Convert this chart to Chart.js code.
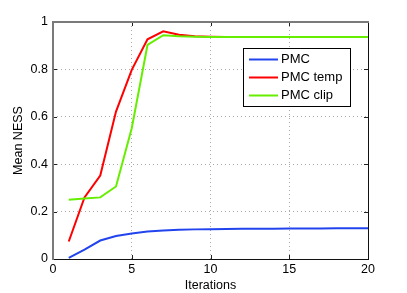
<!DOCTYPE html>
<html>
<head>
<meta charset="utf-8">
<script src="https://cdn.jsdelivr.net/npm/chart.js@4/dist/chart.umd.min.js"></script>
<style>
  html, body { margin: 0; padding: 0; background: #fff; }
  canvas { display: block; }
</style>
</head>
<body>
<canvas id="myChart" width="407" height="293"></canvas>
<script>
// iterations 1..20
const iterations = [1, 2, 3, 4, 5, 6, 7, 8, 9, 10, 11, 12, 13, 14, 15, 16, 17, 18, 19, 20];
const pmc = [0.005, 0.04, 0.078, 0.097, 0.108, 0.116, 0.12, 0.123, 0.125, 0.126, 0.127, 0.128, 0.128, 0.128, 0.129, 0.129, 0.129, 0.13, 0.13, 0.13];
const pmcTemp = [0.074, 0.26, 0.352, 0.622, 0.798, 0.927, 0.961, 0.946, 0.94, 0.938, 0.937, 0.937, 0.937, 0.937, 0.937, 0.937, 0.937, 0.937, 0.937, 0.937];
const pmcClip = [0.25, 0.255, 0.26, 0.306, 0.552, 0.903, 0.944, 0.94, 0.938, 0.937, 0.937, 0.937, 0.937, 0.937, 0.937, 0.937, 0.937, 0.937, 0.937, 0.937];
const xTicks = [0, 5, 10, 15, 20];
const yTicks = [0, 0.2, 0.4, 0.6, 0.8, 1];

const FONT = 'Liberation Sans, Arial, Helvetica, sans-serif';

function pts(vals) {
    return iterations.map((x, i) => ({ x: x, y: vals[i] }));
}

// matlab style box, inward ticks and legend
const matlabPlugin = {
    id: 'matlab',
    afterDraw(chart) {
        const ctx = chart.ctx;
        const a = chart.chartArea;
        const xs = chart.scales.x, ys = chart.scales.y;
        const L = Math.round(a.left), R = Math.round(a.right);
        const T = Math.round(a.top), B = Math.round(a.bottom);
        ctx.save();
        ctx.strokeStyle = '#222';
        ctx.lineWidth = 1;
        xTicks.forEach(v => {
            const px = Math.round(xs.getPixelForValue(v)) + 0.5;
            ctx.beginPath();
            ctx.moveTo(px, B); ctx.lineTo(px, B - 4);
            ctx.moveTo(px, T); ctx.lineTo(px, T + 4);
            ctx.stroke();
        });
        yTicks.forEach(v => {
            const py = Math.round(ys.getPixelForValue(v)) + 0.5;
            ctx.beginPath();
            ctx.moveTo(L, py); ctx.lineTo(L + 4, py);
            ctx.moveTo(R, py); ctx.lineTo(R - 4, py);
            ctx.stroke();
        });
        // bottom and right black, left and top grey
        ctx.strokeStyle = '#111';
        ctx.beginPath();
        ctx.moveTo(L, B + 0.5); ctx.lineTo(R + 1, B + 0.5);
        ctx.moveTo(R + 0.5, T); ctx.lineTo(R + 0.5, B + 1);
        ctx.stroke();
        ctx.strokeStyle = '#7a7a7a';
        ctx.lineWidth = 2;
        ctx.beginPath();
        ctx.moveTo(L, T); ctx.lineTo(R + 1, T);
        ctx.moveTo(L, T - 1); ctx.lineTo(L, B + 1);
        ctx.stroke();

        // legend box
        const lx = 243, ly = 48, lw = 107, lh = 58;
        ctx.fillStyle = '#fff';
        ctx.fillRect(lx, ly, lw, lh);
        ctx.strokeStyle = '#000';
        ctx.lineWidth = 1;
        ctx.strokeRect(lx + 0.5, ly + 0.5, lw, lh);
        ctx.font = '13px ' + FONT;
        ctx.textBaseline = 'middle';
        chart.data.datasets.forEach((ds, i) => {
            const y = ly + 11.5 + i * 18;
            ctx.strokeStyle = ds.borderColor;
            ctx.lineWidth = 2;
            ctx.beginPath();
            ctx.moveTo(lx + 6, y); ctx.lineTo(lx + 35, y);
            ctx.stroke();
            ctx.fillStyle = '#000';
            ctx.fillText(ds.label, lx + 38, y);
        });
        ctx.restore();
    }
};

new Chart(document.getElementById('myChart').getContext('2d'), {
    type: 'line',
    data: {
        datasets: [
            { label: 'PMC', data: pts(pmc), borderColor: '#2244ee', order: 2 },
            { label: 'PMC temp', data: pts(pmcTemp), borderColor: '#ff0000', order: 1 },
            { label: 'PMC clip', data: pts(pmcClip), borderColor: '#66ee00', order: 0 }
        ]
    },
    options: {
        responsive: false,
        animation: false,
        devicePixelRatio: 1,
        layout: { padding: { left: 0, right: 39, top: 22, bottom: 0 } },
        elements: {
            line: { borderWidth: 2, tension: 0 },
            point: { radius: 0 }
        },
        plugins: {
            legend: { display: false },
            tooltip: { enabled: false }
        },
        scales: {
            x: {
                type: 'linear',
                min: 0, max: 20,
                afterBuildTicks: s => { s.ticks = xTicks.map(v => ({ value: v })); },
                afterFit: s => { s.height = 34; },
                grid: { color: '#aaa', drawTicks: false },
                border: { display: false, dash: [1, 3] },
                ticks: { color: '#000', font: { family: FONT, size: 12.5 }, padding: 3, maxRotation: 0 },
                title: { display: true, text: 'Iterations', color: '#000', font: { family: FONT, size: 12.5 }, padding: { top: 0, bottom: 0 } }
            },
            y: {
                min: 0, max: 1,
                afterBuildTicks: s => { s.ticks = yTicks.map(v => ({ value: v })); },
                afterFit: s => { s.width = 53; },
                grid: { color: '#aaa', drawTicks: false },
                border: { display: false, dash: [1, 3] },
                ticks: { color: '#000', font: { family: FONT, size: 12.5 }, padding: 5,
                    callback: v => String(Math.round(v * 10) / 10) },
                title: { display: true, text: 'Mean NESS', color: '#000', font: { family: FONT, size: 12.5 }, padding: { top: 11, bottom: 0 } }
            }
        }
    },
    plugins: [matlabPlugin]
});
</script>
</body>
</html>
